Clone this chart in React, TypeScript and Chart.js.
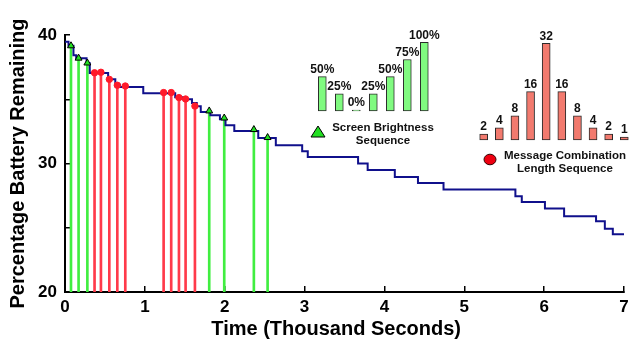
import React, { useEffect, useRef } from 'react';
import { Chart, registerables } from 'chart.js';

Chart.register(...registerables);

const FONT = "'Liberation Sans', Arial, Helvetica, sans-serif";

// Battery step curve: time (thousand seconds) at which the level changes, and the new level (%)
const stepTimes = [0, 0.044, 0.106, 0.14, 0.27, 0.31, 0.54, 0.63, 0.69, 0.98, 1.38, 1.48, 1.59, 1.65, 1.7, 1.82, 1.94, 2.01, 2.12, 2.42, 2.64, 2.97, 3.04, 3.67, 3.79, 4.13, 4.42, 4.74, 5.64, 5.72, 6.01, 6.25, 6.65, 6.76, 6.86, 7.0];
const stepLevels = [39.47, 39.16, 38.42, 38.2, 37.8, 37.04, 36.55, 36.12, 35.95, 35.47, 35.15, 35.0, 34.7, 34.45, 34.0, 33.75, 33.45, 32.98, 32.53, 31.98, 31.42, 30.95, 30.5, 30.0, 29.5, 28.95, 28.48, 27.97, 27.45, 27.0, 26.5, 25.9, 25.5, 24.93, 24.5, 24.5];

// Screen brightness events (green triangles)
const brightTimes = [0.075, 0.17, 0.28, 1.806, 1.994, 2.365, 2.537];
const brightLevels = [39.16, 38.2, 37.82, 34.09, 33.54, 32.64, 32.02];

// Message combination events (red circles)
const msgTimes = [0.37, 0.45, 0.555, 0.655, 0.755, 1.235, 1.33, 1.427, 1.51, 1.627];
const msgLevels = [37.06, 37.1, 36.55, 36.09, 36.03, 35.52, 35.52, 35.13, 35.02, 34.47];

// Inset: screen brightness sequence
const brightnessLabels = ['50%', '25%', '0%', '25%', '50%', '75%', '100%'];
const brightnessValues = [50, 25, 0, 25, 50, 75, 100];

// Inset: message combination length sequence
const lengthLabels = ['2', '4', '8', '16', '32', '16', '8', '4', '2', '1'];
const lengthValues = [2, 4, 8, 16, 32, 16, 8, 4, 2, 1];

const yTickValues = [20, 25, 30, 35, 40];
const yTickLabels: Record<number, string> = { 20: '20', 30: '30', 40: '40' };

const valueLabelPlugin = {
  id: 'valueLabels',
  afterDatasetsDraw(chart: any, _args: any, opts: any) {
    const ctx = chart.ctx;
    const meta = chart.getDatasetMeta(0);
    const labels: string[] = opts.labels || [];
    ctx.save();
    ctx.font = `bold 12px ${FONT}`;
    ctx.fillStyle = '#111';
    ctx.textAlign = 'center';
    ctx.textBaseline = 'bottom';
    meta.data.forEach((el: any, i: number) => {
      ctx.fillText(labels[i], el.x, el.y - 1);
    });
    ctx.restore();
  },
};

function MainChart() {
  const ref = useRef<HTMLCanvasElement>(null);
  useEffect(() => {
    if (!ref.current) return;
    const chart = new Chart(ref.current, {
      type: 'line',
      data: {
        datasets: [
          {
            type: 'line',
            data: brightTimes.map((t, i) => ({ x: t, y: brightLevels[i] })),
            showLine: false,
            pointStyle: 'triangle',
            pointRadius: 4,
            pointBackgroundColor: '#22e022',
            pointBorderColor: '#000',
            pointBorderWidth: 1,
            order: 0,
          } as any,
          {
            type: 'line',
            data: msgTimes.map((t, i) => ({ x: t, y: msgLevels[i] })),
            showLine: false,
            pointStyle: 'circle',
            pointRadius: 3.2,
            pointBackgroundColor: '#ff1a2a',
            pointBorderColor: '#ff1a2a',
            pointBorderWidth: 1,
            order: 0,
          } as any,
          {
            type: 'line',
            data: stepTimes.map((t, i) => ({ x: t, y: stepLevels[i] })),
            stepped: 'before',
            borderColor: '#10108c',
            borderWidth: 2,
            pointRadius: 0,
            fill: false,
            order: 1,
          } as any,
          {
            type: 'bar',
            data: brightTimes.map((t, i) => ({ x: t, y: [20, brightLevels[i]] })),
            backgroundColor: '#40ee40',
            barThickness: 2,
            grouped: false,
            order: 2,
          } as any,
          {
            type: 'bar',
            data: msgTimes.map((t, i) => ({ x: t, y: [20, msgLevels[i]] })),
            backgroundColor: '#ff3a4a',
            barThickness: 2,
            grouped: false,
            order: 2,
          } as any,
        ],
      },
      options: {
        animation: false,
        responsive: false,
        devicePixelRatio: 1,
        layout: { padding: { top: 35, right: 5, left: 0, bottom: 0 } },
        plugins: { legend: { display: false }, tooltip: { enabled: false } },
        scales: {
          x: {
            type: 'linear',
            min: 0,
            max: 7,
            offset: false,
            afterFit: (s: any) => {
              s.height = 50;
              s.paddingLeft = 0;
              s.paddingRight = 0;
            },
            ticks: {
              stepSize: 1,
              padding: 11,
              color: '#000',
              font: { family: FONT, size: 17, weight: 'bold' },
            },
            grid: { drawOnChartArea: false, drawTicks: true, tickLength: -6, color: '#000', lineWidth: 1.5, offset: false },
            border: { display: true, color: '#000', width: 2 },
            title: {
              display: true,
              text: 'Time (Thousand Seconds)   ',
              color: '#000',
              font: { family: FONT, size: 20, weight: 'bold' },
              padding: { top: 0, bottom: 1 },
            },
          },
          y: {
            type: 'linear',
            min: 20,
            max: 40,
            beginAtZero: false,
            afterFit: (s: any) => { s.width = 65; },
            afterBuildTicks: (s: any) => { s.ticks = yTickValues.map((v) => ({ value: v })); },
            ticks: {
              padding: 13,
              color: '#000',
              font: { family: FONT, size: 17, weight: 'bold' },
              callback: (v: any) => yTickLabels[v as number] || '',
            },
            grid: { drawOnChartArea: false, drawTicks: true, tickLength: -5, color: '#000', lineWidth: 1.5 },
            border: { display: true, color: '#000', width: 2 },
            title: {
              display: true,
              text: 'Percentage Battery Remaining',
              color: '#000',
              font: { family: FONT, size: 20, weight: 'bold' },
              padding: { top: 6, bottom: 0 },
            },
          },
        },
      } as any,
    });
    return () => chart.destroy();
  }, []);
  return <canvas ref={ref} width={629} height={342} style={{ position: 'absolute', left: 0, top: 0, width: 629, height: 342 }} />;
}

function InsetChart(props: {
  labels: string[];
  values: number[];
  color: string;
  max: number;
  left: number;
  top: number;
  width: number;
  height: number;
  padding: { left: number; right: number; top: number; bottom: number };
  thickness: number;
}) {
  const ref = useRef<HTMLCanvasElement>(null);
  useEffect(() => {
    if (!ref.current) return;
    const chart = new Chart(ref.current, {
      type: 'bar',
      data: {
        labels: props.labels.map((_, i) => String(i)),
        datasets: [
          {
            data: props.values,
            backgroundColor: props.color,
            borderColor: '#2a2a2a',
            borderWidth: 1,
            borderSkipped: false,
            barThickness: props.thickness,
            minBarLength: 1,
            clip: false,
          } as any,
        ],
      },
      options: {
        animation: false,
        responsive: false,
        devicePixelRatio: 1,
        layout: { padding: props.padding },
        plugins: {
          legend: { display: false },
          tooltip: { enabled: false },
          valueLabels: { labels: props.labels },
        },
        scales: {
          x: { display: false, offset: false, grid: { offset: false } },
          y: { display: false, min: 0, max: props.max },
        },
      } as any,
      plugins: [valueLabelPlugin],
    });
    return () => chart.destroy();
  }, []);
  return (
    <canvas
      ref={ref}
      width={props.width}
      height={props.height}
      style={{ position: 'absolute', left: props.left, top: props.top, width: props.width, height: props.height }}
    />
  );
}

const legendText: React.CSSProperties = {
  position: 'absolute',
  fontFamily: FONT,
  fontWeight: 'bold',
  fontSize: 11.5,
  lineHeight: '13px',
  textAlign: 'center',
  color: '#111',
  whiteSpace: 'nowrap',
};

export default function App() {
  return (
    <div style={{ position: 'fixed', left: 0, top: 0, width: 629, height: 342, background: '#fff', overflow: 'hidden' }}>
      <MainChart />
      <InsetChart
        labels={brightnessLabels}
        values={brightnessValues}
        color="#80fa80"
        max={100}
        left={300}
        top={25}
        width={140}
        height={92}
        padding={{ left: 22.3, right: 15.7, top: 17.3, bottom: 6 }}
        thickness={8}
      />
      <InsetChart
        labels={lengthLabels}
        values={lengthValues}
        color="#f27a6e"
        max={32}
        left={470}
        top={25}
        width={159}
        height={121}
        padding={{ left: 13.7, right: 4.7, top: 18.3, bottom: 6 }}
        thickness={8}
      />
      <svg style={{ position: 'absolute', left: 310, top: 125 }} width={16} height={13}>
        <polygon points="8,1 15,12 1,12" fill="#22e022" stroke="#000" strokeWidth={1} />
      </svg>
      <div style={{ ...legendText, left: 332, top: 120.5, width: 102 }}>
        Screen Brightness
        <br />
        Sequence
      </div>
      <svg style={{ position: 'absolute', left: 483, top: 153 }} width={14} height={13}>
        <ellipse cx={7} cy={6.5} rx={6} ry={5.3} fill="#ee0010" stroke="#300" strokeWidth={1} />
      </svg>
      <div style={{ ...legendText, left: 500, top: 148.5, width: 130 }}>
        Message Combination
        <br />
        Length Sequence
      </div>
    </div>
  );
}
